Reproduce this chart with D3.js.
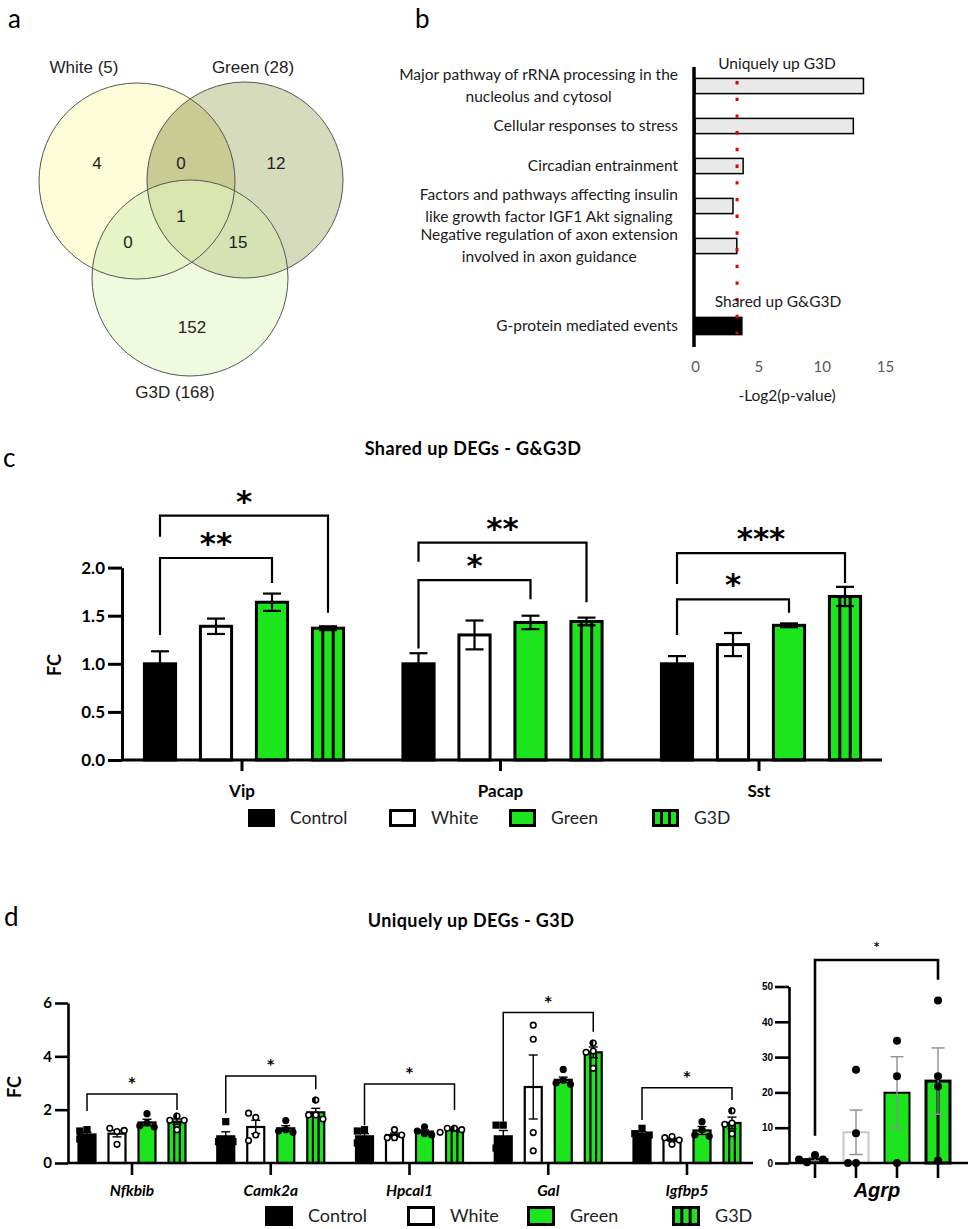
<!DOCTYPE html>
<html>
<head>
  <meta charset="utf-8">
  <title>DEG figure</title>
  <script src="https://cdn.jsdelivr.net/npm/d3@7"></script>
  <style>
    body { margin: 0; background: #fff; }
    text { font-family: Lato, "Liberation Sans", sans-serif; }
    text.star { font-family: "DejaVu Sans", sans-serif; }
  </style>
</head>
<body>
  <svg width="969" height="1229"></svg>
  <script>
    // ---------- data ----------
    // a: venn
    var vennLabels = ["White (5)", "Green (28)", "G3D (168)"];
    var vennRegions = ["W", "WG", "G", "WGD", "WD", "GD", "D"];
    var vennCounts = [4, 0, 12, 1, 0, 15, 152];

    // b: pathways
    var uniqueTerms = ["Major pathway of rRNA processing in the\nnucleolus and cytosol",
      "Cellular responses to stress", "Circadian entrainment",
      "Factors and pathways affecting insulin\nlike growth factor IGF1 Akt signaling",
      "Negative regulation of axon extension\ninvolved in axon guidance"];
    var uniqueLogP = [13.3, 12.5, 3.8, 3.0, 3.3];
    var sharedTerms = ["G-protein mediated events"];
    var sharedLogP = [3.7];
    var logPCutoff = 3.32;
    var logPTicks = [0, 5, 10, 15];

    // c: shared DEGs
    var groups = ["Control", "White", "Green", "G3D"];
    var cGenes = ["Vip", "Pacap", "Sst"];
    var cMeans = [[1.0, 1.39, 1.64, 1.37], [1.0, 1.30, 1.43, 1.44], [1.0, 1.20, 1.40, 1.70]];
    var cSem = [[0.13, 0.08, 0.09, 0.02], [0.11, 0.15, 0.07, 0.04], [0.08, 0.12, 0.02, 0.10]];
    var cTicks = [0, 0.5, 1, 1.5, 2];
    var cSig = [
      { gene: "Vip", from: "Control", to: "Green", y: 2.10, yl: 1.30, yr: 1.84, mark: "**" },
      { gene: "Vip", from: "Control", to: "G3D", y: 2.54, yl: 2.32, yr: 1.53, mark: "*" },
      { gene: "Pacap", from: "Control", to: "Green", y: 1.87, yl: 1.16, yr: 1.67, mark: "*" },
      { gene: "Pacap", from: "Control", to: "G3D", y: 2.26, yl: 2.06, yr: 1.64, mark: "**" },
      { gene: "Sst", from: "Control", to: "Green", y: 1.67, yl: 1.30, yr: 1.53, mark: "*" },
      { gene: "Sst", from: "Control", to: "G3D", y: 2.15, yl: 1.83, yr: 1.84, mark: "***" }
    ];

    // d: uniquely up DEGs
    var dGenes = ["Nfkbib", "Camk2a", "Hpcal1", "Gal", "Igfbp5"];
    var dMeans = [[1.07, 1.10, 1.52, 1.55], [1.00, 1.35, 1.30, 1.90], [1.00, 1.05, 1.18, 1.25],
      [1.00, 2.85, 3.12, 4.15], [1.10, 0.87, 1.22, 1.50]];
    var dSem = [[0.08, 0.12, 0.12, 0.10], [0.17, 0.25, 0.10, 0.15], [0.10, 0.07, 0.06, 0.04],
      [0.22, 1.20, 0.10, 0.20], [0.07, 0.06, 0.15, 0.22]];
    var dPoints = [
      [[1.25, 1.2, 0.95, 0.9], [1.18, 1.3, 1.22, 0.7], [1.85, 1.5, 1.4, 1.35], [1.76, 1.6, 1.6, 1.25]],
      [[1.55, 0.85, 0.8, 0.8], [1.71, 1.87, 1.05, 0.84], [1.59, 1.25, 1.2, 1.15], [2.36, 1.8, 1.8, 1.65]],
      [[1.25, 1.2, 0.8, 0.75], [0.95, 1.25, 0.95, 1.05], [1.36, 1.2, 1.1, 1.05], [1.3, 1.3, 1.25, 1.15]],
      [[1.42, 1.42, 0.6, 0.56], [5.17, 4.64, 1.14, 0.46], [3.51, 3.1, 3.0, 2.95], [4.5, 4.2, 4.15, 3.55]],
      [[1.3, 1.1, 1.05, 0.95], [0.99, 0.95, 0.86, 0.7], [1.55, 1.25, 1.05, 1.0], [1.96, 1.5, 1.45, 1.1]]
    ];
    var dTicks = [0, 2, 4, 6];
    var dSig = [
      { gene: "Nfkbib", y: 2.59, yl: 1.95, yr: 1.99 },
      { gene: "Camk2a", y: 3.26, yl: 1.87, yr: 2.77 },
      { gene: "Hpcal1", y: 2.96, yl: 1.42, yr: 1.99 },
      { gene: "Gal", y: 5.64, yl: 1.55, yr: 4.92 },
      { gene: "Igfbp5", y: 2.82, yl: 1.61, yr: 2.36 }
    ];
    var agrpMeans = [1.1, 8.7, 19.9, 23.2];
    var agrpSem = [0.5, 6.3, 10.2, 9.4];
    var agrpPoints = [[2.3, 0.2, 1.0, 1.0], [26.4, 8.4, 0, 0], [34.6, 24.6, 0], [46, 24.6, 21.7, 0.7]];
    var agrpTicks = [0, 10, 20, 30, 40, 50];
    var agrpSig = { y: 57.5, yl: 7.7, yr: 51.9 };

    var GREEN = "#1de51d";
    var svg = d3.select("svg");

    function fillOf(gr) { return gr === "Control" ? "#000" : gr === "White" ? "#fff" : GREEN; }

    // bar with optional stripes for G3D
    function bar(g, left, w, yTop, yBase, gr, sw, stroke, stripes) {
      g.append("rect").attr("x", left + sw / 2).attr("y", yTop)
        .attr("width", w - sw).attr("height", Math.max(0, yBase - yTop))
        .attr("fill", fillOf(gr)).attr("stroke", stroke || "#000").attr("stroke-width", sw);
      if (gr === "G3D") {
        stripes.forEach(function (k) {
          var xx = left + sw / 2 + (w - sw) * k;
          g.append("line").attr("x1", xx).attr("x2", xx).attr("y1", yTop).attr("y2", yBase)
            .attr("stroke", "#000").attr("stroke-width", sw);
        });
      }
    }

    function errBar(g, x, y, m, s, cap, col, sw) {
      var e = g.append("g").attr("stroke", col).attr("stroke-width", sw);
      e.append("line").attr("x1", x).attr("x2", x).attr("y1", y(m - s)).attr("y2", y(m + s));
      [m - s, m + s].forEach(function (v) {
        e.append("line").attr("x1", x - cap).attr("x2", x + cap).attr("y1", y(v)).attr("y2", y(v));
      });
    }

    function bracket(g, x1, x2, yb, yl, yr, mark, sw, fs, gap) {
      g.append("path").attr("d", "M" + x1 + "," + yl + "V" + yb + "H" + x2 + "V" + yr)
        .attr("fill", "none").attr("stroke", "#000").attr("stroke-width", sw);
      g.append("text").attr("class", "star").attr("x", (x1 + x2) / 2).attr("y", yb - gap)
        .attr("text-anchor", "middle").attr("font-weight", "bold").attr("font-size", fs)
        .text(mark);
    }

    // simple beeswarm so overlapping points sit side by side
    function swarm(vals, y, r) {
      var placed = [];
      vals.forEach(function (v, i) {
        var py = y(v);
        var offs = [0, -2 * r, 2 * r, -4 * r, 4 * r];
        for (var k = 0; k < offs.length; k++) {
          var ok = placed.every(function (p) { return Math.hypot(p.dx - offs[k], p.py - py) >= 2 * r - 0.5; });
          if (ok || k === offs.length - 1) { placed.push({ dx: offs[k], py: py, i: i }); break; }
        }
      });
      return placed;
    }

    function point(g, x, py, gr, r, first) {
      if (gr === "Control") {
        g.append("rect").attr("x", x - r).attr("y", py - r).attr("width", 2 * r).attr("height", 2 * r).attr("fill", "#000");
      } else if (gr === "Green") {
        g.append("circle").attr("cx", x).attr("cy", py).attr("r", r).attr("fill", "#000");
      } else {
        g.append("circle").attr("cx", x).attr("cy", py).attr("r", r - 0.8)
          .attr("fill", "#fff").attr("stroke", "#000").attr("stroke-width", 1.6);
        if (gr === "G3D" && first) {
          g.append("path").attr("d", "M" + x + "," + (py - r) + "A" + r + "," + r + " 0 0 0 " + x + "," + (py + r) + "Z")
            .attr("fill", "#000");
        }
      }
    }

    function legend(g, xs, y, w, h, fs, sw) {
      groups.forEach(function (gr, i) {
        bar(g, xs[i], w + sw, y - h / 2, y + h / 2, gr, sw, "#000", [1 / 3, 2 / 3]);
        g.append("text").attr("x", xs[i] + w + 18).attr("y", y + fs * 0.36)
          .attr("font-size", fs).attr("fill", "#222").text(gr);
      });
    }

    // panel letters
    [["a", 8, 28], ["b", 415, 28], ["c", 3, 467], ["d", 4, 926]].forEach(function (p) {
      svg.append("text").attr("x", p[1]).attr("y", p[2]).attr("font-size", 26).text(p[0]);
    });

    // ---------- a: venn ----------
    var vr = 98;
    var vc = { W: [137, 181], G: [245, 180], D: [190, 278] };
    var defs = svg.append("defs");
    ["W", "G", "D"].forEach(function (k) {
      defs.append("clipPath").attr("id", "clip" + k).append("circle")
        .attr("cx", vc[k][0]).attr("cy", vc[k][1]).attr("r", vr);
    });
    var va = svg.append("g");
    function vcirc(parent, k, col) {
      parent.append("circle").attr("cx", vc[k][0]).attr("cy", vc[k][1]).attr("r", vr).attr("fill", col);
    }
    vcirc(va, "W", "#fcfcd9");
    vcirc(va, "G", "#d6dcbb");
    vcirc(va, "D", "#effadf");
    vcirc(va.append("g").attr("clip-path", "url(#clipW)"), "G", "#c8cc92");
    vcirc(va.append("g").attr("clip-path", "url(#clipW)"), "D", "#e6f4c7");
    vcirc(va.append("g").attr("clip-path", "url(#clipG)"), "D", "#d6e2b4");
    vcirc(va.append("g").attr("clip-path", "url(#clipW)").append("g").attr("clip-path", "url(#clipG)"), "D", "#d9e5ae");
    ["W", "G", "D"].forEach(function (k) {
      va.append("circle").attr("cx", vc[k][0]).attr("cy", vc[k][1]).attr("r", vr)
        .attr("fill", "none").attr("stroke", "#555").attr("stroke-width", 1);
    });
    var vPos = { W: [97, 163], WG: [181, 163], G: [276, 163], WGD: [181, 216], WD: [128, 242], GD: [238, 242], D: [192, 327] };
    vennRegions.forEach(function (rg, i) {
      va.append("text").attr("x", vPos[rg][0]).attr("y", vPos[rg][1] + 6)
        .attr("text-anchor", "middle").attr("font-size", 17).attr("fill", "#222")
        .style("font-family", "'Liberation Sans', Arial, sans-serif").text(vennCounts[i]);
    });
    [[84, 73], [253, 73], [175, 398]].forEach(function (p, i) {
      va.append("text").attr("x", p[0]).attr("y", p[1]).attr("text-anchor", "middle")
        .attr("font-size", 17).attr("fill", "#222")
        .style("font-family", "'Liberation Sans', Arial, sans-serif").text(vennLabels[i]);
    });

    // ---------- b: pathway bars ----------
    var gb = svg.append("g");
    var bFs = 15.5;
    var bx = d3.scaleLinear().domain([0, 15]).range([695, 885]);
    var by = d3.scaleBand().domain(uniqueTerms.concat(["gap"], sharedTerms))
      .range([66, 346]).paddingInner(0.62).paddingOuter(0.31);
    var bRows = uniqueTerms.map(function (t, i) { return { t: t, v: uniqueLogP[i], shared: false }; })
      .concat(sharedTerms.map(function (t, i) { return { t: t, v: sharedLogP[i], shared: true }; }));

    gb.selectAll("rect.pw").data(bRows).enter().append("rect").attr("class", "pw")
      .attr("x", bx(0)).attr("y", function (d) { return by(d.t) - (d.shared ? 1 : 0); })
      .attr("width", function (d) { return bx(d.v) - bx(0); })
      .attr("height", function (d) { return by.bandwidth() + (d.shared ? 2 : 0); })
      .attr("fill", function (d) { return d.shared ? "#000" : "#e9e9e9"; })
      .attr("stroke", "#000").attr("stroke-width", 1.5);

    gb.append("line").attr("x1", 694).attr("x2", 694).attr("y1", 67).attr("y2", 347)
      .attr("stroke", "#000").attr("stroke-width", 3.5);
    gb.append("line").attr("x1", bx(logPCutoff)).attr("x2", bx(logPCutoff)).attr("y1", 81).attr("y2", 334)
      .attr("stroke", "#e00000").attr("stroke-width", 3).attr("stroke-dasharray", "3.4,13.3");

    bRows.forEach(function (d) {
      var lines = d.t.split("\n");
      var cyy = by(d.t) + by.bandwidth() / 2;
      if (lines.length === 1) {
        gb.append("text").attr("x", 678).attr("y", cyy + 5).attr("text-anchor", "end")
          .attr("font-size", bFs).attr("fill", "#1a1a1a").text(lines[0]);
      } else {
        var t1 = gb.append("text").attr("x", 678).attr("y", cyy - 11 + 5).attr("text-anchor", "end")
          .attr("font-size", bFs).attr("fill", "#1a1a1a").text(lines[0]);
        var w1 = t1.node().getComputedTextLength();
        gb.append("text").attr("x", 678 - w1 / 2).attr("y", cyy + 11 + 5).attr("text-anchor", "middle")
          .attr("font-size", bFs).attr("fill", "#1a1a1a").text(lines[1]);
      }
    });
    gb.append("text").attr("x", 777).attr("y", 69).attr("text-anchor", "middle")
      .attr("font-size", bFs).attr("fill", "#1a1a1a").text("Uniquely up G3D");
    gb.append("text").attr("x", 778).attr("y", 307).attr("text-anchor", "middle")
      .attr("font-size", bFs).attr("fill", "#1a1a1a").text("Shared up G&G3D");

    var bAxis = gb.append("g").attr("transform", "translate(0,361)")
      .call(d3.axisBottom(bx).tickValues(logPTicks).tickSize(0).tickPadding(0));
    bAxis.select(".domain").remove();
    bAxis.selectAll("text").attr("font-size", 15).attr("fill", "#595959")
      .style("font-family", "Lato, sans-serif");
    gb.append("text").attr("x", 787).attr("y", 401).attr("text-anchor", "middle")
      .attr("font-size", bFs).attr("fill", "#1a1a1a").text("-Log2(p-value)");

    // ---------- c: shared DEGs ----------
    var gc = svg.append("g");
    var cy = d3.scaleLinear().domain([0, 2]).range([760, 567.6]);
    var cx = d3.scalePoint().domain(cGenes).range([242, 759]);
    var cxIn = d3.scaleBand().domain(groups).range([-110, 114]).paddingInner(0.39).paddingOuter(0.195);

    gc.append("text").attr("x", 473).attr("y", 455).attr("text-anchor", "middle")
      .attr("font-size", 18).attr("font-weight", "bold").style("letter-spacing", "0.4px")
      .text("Shared up DEGs - G&G3D");

    cGenes.forEach(function (gene, gi) {
      groups.forEach(function (gr, k) {
        var left = cx(gene) + cxIn(gr);
        bar(gc, left, cxIn.bandwidth(), cy(cMeans[gi][k]), cy(0), gr, 3, "#000", [1 / 3, 2 / 3]);
        errBar(gc, left + cxIn.bandwidth() / 2, cy, cMeans[gi][k], cSem[gi][k], 9, "#000", 2.2);
      });
    });

    var cAxis = gc.append("g").attr("transform", "translate(122,0)")
      .call(d3.axisLeft(cy).tickValues(cTicks).tickFormat(d3.format(".1f")).tickSize(14).tickSizeOuter(0).tickPadding(3));
    cAxis.selectAll("path,line").attr("stroke", "#000").attr("stroke-width", 3);
    cAxis.selectAll("text").attr("font-size", 17).attr("font-weight", "bold").attr("fill", "#000")
      .style("font-family", "Lato, sans-serif");
    gc.append("line").attr("x1", 122).attr("x2", 882).attr("y1", cy(0)).attr("y2", cy(0))
      .attr("stroke", "#000").attr("stroke-width", 3);
    cGenes.forEach(function (gene) {
      gc.append("line").attr("x1", cx(gene)).attr("x2", cx(gene)).attr("y1", cy(0)).attr("y2", cy(0) + 11)
        .attr("stroke", "#000").attr("stroke-width", 3);
      gc.append("text").attr("x", cx(gene)).attr("y", 797).attr("text-anchor", "middle")
        .attr("font-size", 17).attr("font-weight", "bold").text(gene);
    });
    gc.append("text").attr("transform", "translate(61,665) rotate(-90)").attr("text-anchor", "middle")
      .attr("font-size", 18).attr("font-weight", "bold").text("FC");

    cSig.forEach(function (s) {
      var x1 = cx(s.gene) + cxIn(s.from) + cxIn.bandwidth() / 2;
      var x2 = cx(s.gene) + cxIn(s.to) + cxIn.bandwidth() / 2;
      bracket(gc, x1, x2, cy(s.y), cy(s.yl), cy(s.yr), s.mark, 2.2, 31, 4);
    });

    legend(gc, [248, 389, 509, 652], 818, 24, 15, 17.5, 3);

    // ---------- d: uniquely up DEGs ----------
    var gd = svg.append("g");
    var dy = d3.scaleLinear().domain([0, 6]).range([1163, 1003]);
    var dx = d3.scalePoint().domain(dGenes).range([132, 687]);
    var dxIn = d3.scaleBand().domain(groups).range([-60, 60]).paddingInner(0.36).paddingOuter(0.18);

    gd.append("text").attr("x", 471).attr("y", 927).attr("text-anchor", "middle")
      .attr("font-size", 18).attr("font-weight", "bold").style("letter-spacing", "0.4px")
      .text("Uniquely up DEGs -  G3D");

    dGenes.forEach(function (gene, gi) {
      groups.forEach(function (gr, k) {
        var left = dx(gene) + dxIn(gr);
        var mid = left + dxIn.bandwidth() / 2;
        bar(gd, left, dxIn.bandwidth(), dy(dMeans[gi][k]), dy(0), gr, 2.2, "#000", [1 / 3, 2 / 3]);
        errBar(gd, mid, dy, dMeans[gi][k], dSem[gi][k], 4.5, "#000", 1.4);
        swarm(dPoints[gi][k], dy, 3.6).forEach(function (p) {
          point(gd, mid + p.dx, p.py, gr, 3.6, p.i === 0);
        });
      });
    });

    var dAxis = gd.append("g").attr("transform", "translate(68,0)")
      .call(d3.axisLeft(dy).tickValues(dTicks).tickFormat(d3.format("d")).tickSize(13).tickSizeOuter(0).tickPadding(3));
    dAxis.selectAll("path,line").attr("stroke", "#000").attr("stroke-width", 2.6);
    dAxis.selectAll("text").attr("font-size", 15).attr("font-weight", "bold").attr("fill", "#000")
      .style("font-family", "Lato, sans-serif");
    gd.append("line").attr("x1", 68).attr("x2", 753).attr("y1", dy(0)).attr("y2", dy(0))
      .attr("stroke", "#000").attr("stroke-width", 2.6);
    dGenes.forEach(function (gene) {
      gd.append("line").attr("x1", dx(gene)).attr("x2", dx(gene)).attr("y1", dy(0)).attr("y2", dy(0) + 12)
        .attr("stroke", "#000").attr("stroke-width", 2.6);
      gd.append("text").attr("x", dx(gene)).attr("y", 1196).attr("text-anchor", "middle")
        .attr("font-size", 15.5).attr("font-weight", "bold").attr("font-style", "italic").text(gene);
    });
    gd.append("text").attr("transform", "translate(21,1087) rotate(-90)").attr("text-anchor", "middle")
      .attr("font-size", 18).attr("font-weight", "bold").text("FC");

    dSig.forEach(function (s) {
      var x1 = dx(s.gene) + dxIn("Control") + dxIn.bandwidth() / 2;
      var x2 = dx(s.gene) + dxIn("G3D") + dxIn.bandwidth() / 2;
      bracket(gd, x1, x2, dy(s.y), dy(s.yl), dy(s.yr), "*", 1.5, 14, 7);
    });

    legend(gd, [265, 407, 527, 672], 1216, 25, 17, 18, 3);

    // Agrp sub-chart
    var ga = svg.append("g").style("font-family", "'Liberation Sans', Arial, sans-serif");
    var ay = d3.scaleLinear().domain([0, 50]).range([1163, 986.5]);
    var ax = d3.scalePoint().domain(groups).range([815, 938]);
    var aw = 27;
    groups.forEach(function (gr, k) {
      var mid = ax(gr);
      var sw = gr === "G3D" ? 3 : 2;
      bar(ga, mid - aw / 2, aw, ay(agrpMeans[k]), ay(0), gr, sw, gr === "White" ? "#c8c8c8" : "#000", [0.5]);
    });
    groups.forEach(function (gr, k) {
      errBar(ga, ax(gr), ay, agrpMeans[k], agrpSem[k], 6.5, "#8f8f8f", 1.4);
    });
    groups.forEach(function (gr, k) {
      swarm(agrpPoints[k], ay, 4).forEach(function (p) {
        ga.append("circle").attr("cx", ax(gr) + p.dx).attr("cy", p.py).attr("r", 4).attr("fill", "#000");
      });
    });
    var aAxis = ga.append("g").attr("transform", "translate(789,0)")
      .call(d3.axisLeft(ay).tickValues(agrpTicks).tickSize(14).tickSizeOuter(0).tickPadding(2));
    aAxis.selectAll("path,line").attr("stroke", "#000").attr("stroke-width", 2.6);
    aAxis.selectAll("text").attr("font-size", 10).attr("font-weight", "bold").attr("fill", "#000")
      .style("font-family", "'Liberation Sans', Arial, sans-serif");
    ga.append("line").attr("x1", 789).attr("x2", 968).attr("y1", ay(0)).attr("y2", ay(0))
      .attr("stroke", "#000").attr("stroke-width", 2.6);
    groups.forEach(function (gr) {
      ga.append("line").attr("x1", ax(gr)).attr("x2", ax(gr)).attr("y1", ay(0)).attr("y2", ay(0) + 15)
        .attr("stroke", "#000").attr("stroke-width", 2.6);
    });
    ga.append("text").attr("x", 877).attr("y", 1197).attr("text-anchor", "middle")
      .attr("font-size", 20).attr("font-weight", "bold").attr("font-style", "italic")
      .style("font-family", "'Liberation Sans', Arial, sans-serif").text("Agrp");
    bracket(ga, ax("Control"), ax("G3D"), ay(agrpSig.y), ay(agrpSig.yl), ay(agrpSig.yr), "*", 2.6, 10, 10);
  </script>
</body>
</html>
